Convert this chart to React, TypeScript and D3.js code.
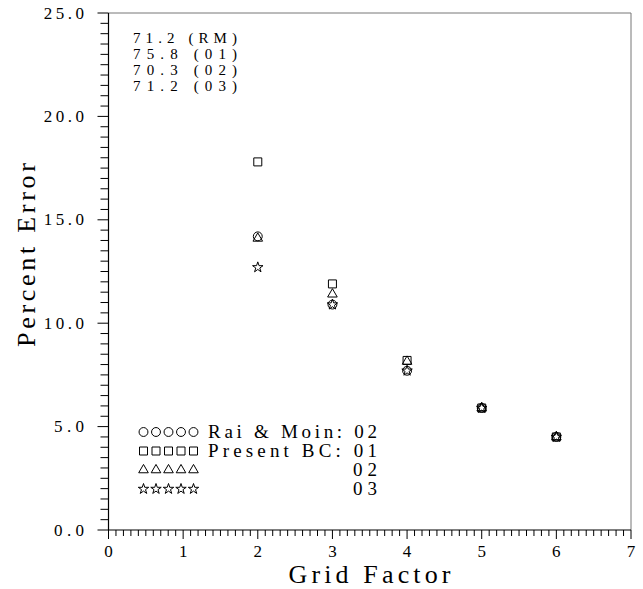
import React from 'react';
import * as d3 from 'd3';

const gridFactors = [2, 3, 4, 5, 6];
const raiMoin02 = [14.2, 10.9, 7.7, 5.9, 4.5];
const presentBC01 = [17.8, 11.9, 8.2, 5.9, 4.5];
const presentBC02 = [14.1, 11.4, 8.15, 5.9, 4.5];
const presentBC03 = [12.7, 10.9, 7.7, 5.9, 4.5];

const xTicks = [0, 1, 2, 3, 4, 5, 6, 7];
const xTickLabels = ['0', '1', '2', '3', '4', '5', '6', '7'];
const yTicks = [0, 5, 10, 15, 20, 25];
const yTickLabels = ['0.0', '5.0', '10.0', '15.0', '20.0', '25.0'];
const noteLines = ['71.2 (RM)', '75.8 (01)', '70.3 (02)', '71.2 (03)'];
const legendLabels = ['Rai & Moin: 02', 'Present BC: 01', '02', '03'];

const W = 643;
const H = 589;
const L = 108.5;
const R = 631;
const T = 13;
const B = 530;
const FONT = '"Liberation Serif", "DejaVu Serif", serif';

const x = d3.scaleLinear().domain([0, 7]).range([L, R]);
const y = d3.scaleLinear().domain([0, 25]).range([B, T]);

const symCircle = d3.symbol().type(d3.symbolCircle).size(62)();
const symSquare = d3.symbol().type(d3.symbolSquare).size(64)();
const symTriangle = d3.symbol().type(d3.symbolTriangle).size(40)();
const symStar = d3.symbol().type(d3.symbolStar).size(34)();

const series = [
  { name: 'rm', values: raiMoin02, path: symCircle },
  { name: 'o1', values: presentBC01, path: symSquare },
  { name: 'o2', values: presentBC02, path: symTriangle },
  { name: 'o3', values: presentBC03, path: symStar },
];

export default function App() {
  const xMinor = d3.range(0, 70.5, 1).map((d) => d / 10);
  const yMinor = d3.range(0, 50.5, 1).map((d) => d / 2);
  return (
    <svg
      width={W}
      height={H}
      viewBox={`0 0 ${W} ${H}`}
      style={{ position: 'absolute', left: 0, top: 0, background: '#fff' }}
    >
      <rect x={0} y={0} width={W} height={H} fill="#fff" />
      {/* frame */}
      <line x1={L} y1={T} x2={R} y2={T} stroke="#777" strokeWidth={1} />
      <line x1={R} y1={T} x2={R} y2={B} stroke="#777" strokeWidth={1} />
      <line x1={L} y1={T} x2={L} y2={B} stroke="#000" strokeWidth={1.2} />
      <line x1={L} y1={B} x2={R} y2={B} stroke="#000" strokeWidth={1.2} />
      {/* x ticks */}
      {xMinor.map((d, i) => (
        <line
          key={'xm' + i}
          x1={x(d)}
          x2={x(d)}
          y1={B}
          y2={B + (i % 10 === 0 ? 9 : 6)}
          stroke="#000"
          strokeWidth={1}
        />
      ))}
      {/* y ticks */}
      {yMinor.map((d, i) => (
        <line
          key={'ym' + i}
          x1={L - (i % 10 === 0 ? 11 : 8)}
          x2={L}
          y1={y(d)}
          y2={y(d)}
          stroke="#000"
          strokeWidth={1}
        />
      ))}
      {xTicks.map((d, i) => (
        <text
          key={'xl' + i}
          x={x(d)}
          y={557}
          fontFamily={FONT}
          fontSize={17}
          textAnchor="middle"
          fill="#000"
        >
          {xTickLabels[i]}
        </text>
      ))}
      {yTicks.map((d, i) => {
        const w = yTickLabels[i].length * 10.3;
        return (
          <text
            key={'yl' + i}
            x={85 - w}
            y={y(d) + 5.5}
            fontFamily={FONT}
            fontSize={17}
            textLength={w - 1}
            lengthAdjust="spacing"
            fill="#000"
          >
            {yTickLabels[i]}
          </text>
        );
      })}
      {/* axis titles */}
      <text
        x={369.5 - 81}
        y={583}
        fontFamily={FONT}
        fontSize={26}
        textLength={162}
        lengthAdjust="spacing"
        fill="#000"
      >
        Grid Factor
      </text>
      <text
        transform={`translate(35, ${255 + 92}) rotate(-90)`}
        x={0}
        y={0}
        fontFamily={FONT}
        fontSize={26}
        textLength={184}
        lengthAdjust="spacing"
        fill="#000"
      >
        Percent Error
      </text>
      {/* notes */}
      {noteLines.map((t, i) => (
        <text
          key={'n' + i}
          x={133}
          y={43 + i * 16}
          fontFamily={FONT}
          fontSize={15}
          textLength={104}
          lengthAdjust="spacing"
          fill="#000"
        >
          {t}
        </text>
      ))}
      {/* data */}
      {series.map((s) =>
        s.values.map((v, i) => (
          <path
            key={s.name + i}
            d={s.path || ''}
            transform={`translate(${x(gridFactors[i])}, ${y(v)})`}
            fill="none"
            stroke="#000"
            strokeWidth={1}
          />
        ))
      )}
      {/* legend */}
      {series.map((s, r) => (
        <g key={'lg' + r}>
          {d3.range(5).map((k) => (
            <path
              key={k}
              d={s.path || ''}
              transform={`translate(${143.5 + k * 12.5}, ${432 + r * 19})`}
              fill="none"
              stroke="#000"
              strokeWidth={1}
            />
          ))}
          {r < 2 ? (
            <text
              x={208}
              y={438 + r * 19}
              fontFamily={FONT}
              fontSize={19}
              textLength={169}
              lengthAdjust="spacing"
              fill="#000"
            >
              {legendLabels[r]}
            </text>
          ) : (
            <text
              x={353}
              y={438 + r * 19}
              fontFamily={FONT}
              fontSize={19}
              textLength={24}
              lengthAdjust="spacing"
              fill="#000"
            >
              {legendLabels[r]}
            </text>
          )}
        </g>
      ))}
    </svg>
  );
}
